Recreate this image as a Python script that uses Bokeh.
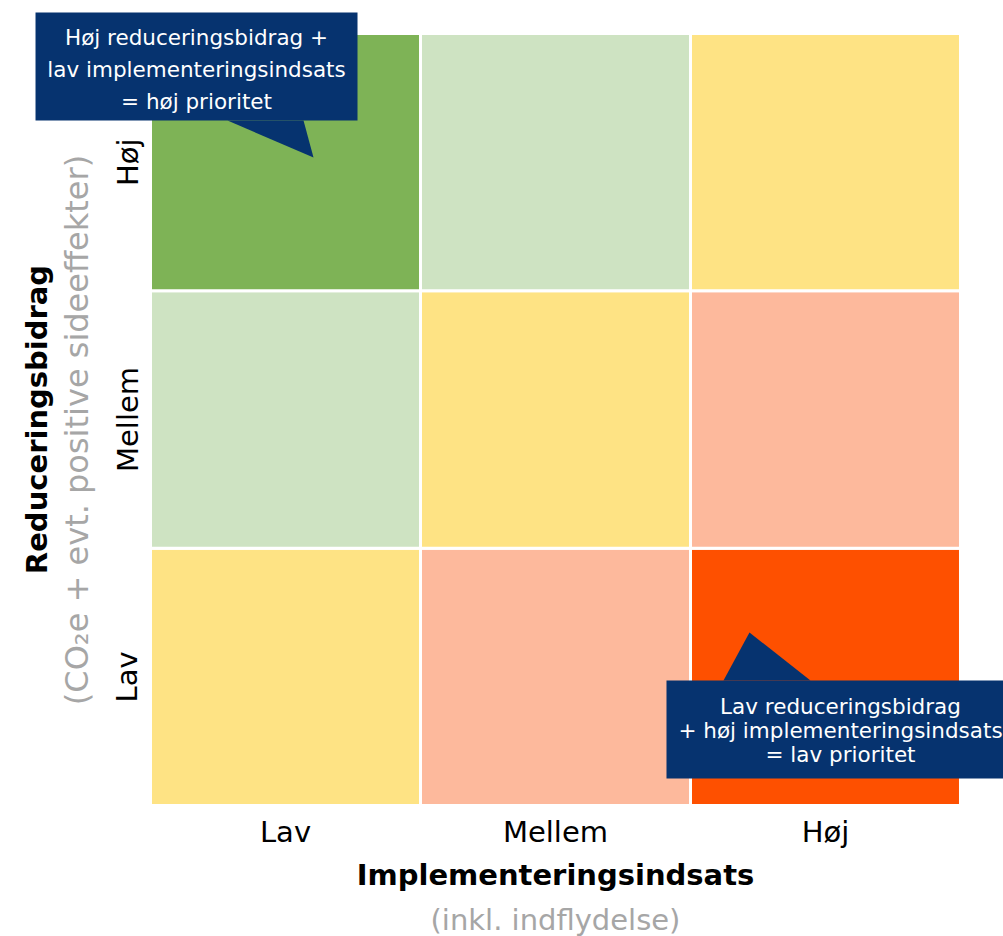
from bokeh.plotting import figure
from bokeh.models import (Range1d, ColumnDataSource, BoxAnnotation, PolyAnnotation,
                          Label, LinearAxis, FixedTicker)
from bokeh.transform import factor_cmap
from bokeh.embed import file_html
from bokeh.resources import INLINE

# ---------------- data ----------------
levels = ["Lav", "Mellem", "Høj"]          # tick labels on both axes
impl = ["Lav", "Mellem", "Høj", "Lav", "Mellem", "Høj", "Lav", "Mellem", "Høj"]
reduc = ["Lav", "Lav", "Lav", "Mellem", "Mellem", "Mellem", "Høj", "Høj", "Høj"]
prioritet = ["middel", "lav-middel", "lav",
             "høj-middel", "middel", "lav-middel",
             "høj", "høj-middel", "middel"]
prioritet_levels = ["høj", "høj-middel", "middel", "lav-middel", "lav"]
prioritet_colors = ["#7EB356", "#CEE3C2", "#FEE384", "#FDB99C", "#FE5000"]

x_title = "Implementeringsindsats"
x_subtitle = "(inkl. indflydelse)"
y_title = "Reduceringsbidrag"
y_subtitle = "(CO\u2082e + evt. positive sideeffekter)"

callout_top = ["Høj reduceringsbidrag +", "lav implementeringsindsats", "= høj prioritet"]
callout_bottom = ["Lav reduceringsbidrag", "+ høj implementeringsindsats", "= lav prioritet"]

FONT = "DejaVu Sans"
NAVY = "#06336F"
GRAY = "#A6A6A6"

# category -> slot on the axis (each level occupies one unit)
slot = {lv: i + 0.5 for i, lv in enumerate(levels)}
src = ColumnDataSource(dict(x=[slot[v] for v in impl], y=[slot[v] for v in reduc],
                            prioritet=prioritet))
tick_pos = [slot[lv] for lv in levels]
tick_names = dict(zip(tick_pos, levels))
n = len(levels)

p = figure(x_range=Range1d(-0.5556, n + 0.1593), y_range=Range1d(-0.5091, n + 0.1282),
           width=1003, height=936, output_backend="svg", toolbar_location=None,
           min_border_left=0, min_border_right=0, min_border_top=0, min_border_bottom=0,
           x_axis_type=None, y_axis_type=None)
p.outline_line_color = None
p.background_fill_color = "white"
p.border_fill_color = "white"

p.rect(x="x", y="y", width=1, height=1, source=src,
       fill_color=factor_cmap("prioritet", prioritet_colors, prioritet_levels),
       line_color="white", line_width=3)

def make_axis(ticks, label, size, style, color, standoff, label_standoff=6):
    ax = LinearAxis(ticker=FixedTicker(ticks=ticks), axis_label=label)
    ax.major_label_overrides = {t: tick_names[t] for t in ticks}
    ax.axis_line_color = None
    ax.major_tick_line_color = None
    ax.minor_tick_line_color = None
    ax.major_tick_out = 0
    ax.major_tick_in = 0
    ax.minor_tick_out = 0
    ax.minor_tick_in = 0
    ax.major_label_text_font = FONT
    ax.major_label_text_font_size = "29px"
    ax.major_label_text_color = "black"
    ax.major_label_standoff = label_standoff
    ax.axis_label_text_font = FONT
    ax.axis_label_text_font_size = size
    ax.axis_label_text_font_style = style
    ax.axis_label_text_color = color
    ax.axis_label_standoff = standoff
    ax.fixed_location = 0
    return ax

# x axes, drawn along the bottom edge of the grid
xa = make_axis(tick_pos, x_title, "29px", "bold", "black", 5, label_standoff=10)
xa.bounds = (0, n)
p.add_layout(xa, "below")
xa2 = make_axis([], x_subtitle, "29px", "normal", GRAY, 97)
xa2.bounds = (0, n)
p.add_layout(xa2, "below")

# y axes, drawn along the left edge of the grid
ya = make_axis(tick_pos, y_subtitle, "32px", "normal", GRAY, 12, label_standoff=6)
ya.major_label_orientation = "vertical"
ya.bounds = (-0.08, n)
p.add_layout(ya, "left")
ya2 = make_axis([], y_title, "29px", "bold", "black", 97)
ya2.bounds = (0, n)
p.add_layout(ya2, "left")

# ---------------- callouts (annotations) ----------------
def callout(left, right, bottom, top, tri_x, tri_y, cx, baselines, lines):
    p.add_layout(BoxAnnotation(left=left, right=right, bottom=bottom, top=top,
                               fill_color=NAVY, fill_alpha=1, line_color=None))
    p.add_layout(PolyAnnotation(xs=tri_x, ys=tri_y, fill_color=NAVY, fill_alpha=1,
                                line_color=None))
    for yb, t in zip(baselines, lines):
        p.add_layout(Label(x=cx, y=yb, text=t, text_font=FONT, text_font_size="21.5px",
                           text_color="white", text_align="center",
                           text_baseline="alphabetic"))

callout(-0.4259, 0.7667, 2.6619, 3.0816,
        [0.2852, 0.5667, 0.6037], [2.6619, 2.6619, 2.5181],
        0.1704, [2.9845, 2.8601, 2.7357], callout_top)
callout(1.9111, 3.1593, 0.1049, 0.4858,
        [2.1222, 2.4444, 2.2185], [0.4858, 0.4858, 0.6723],
        2.5556, [0.3847, 0.2915, 0.1982], callout_bottom)

open("out.html", "w").write(file_html(p, INLINE))
